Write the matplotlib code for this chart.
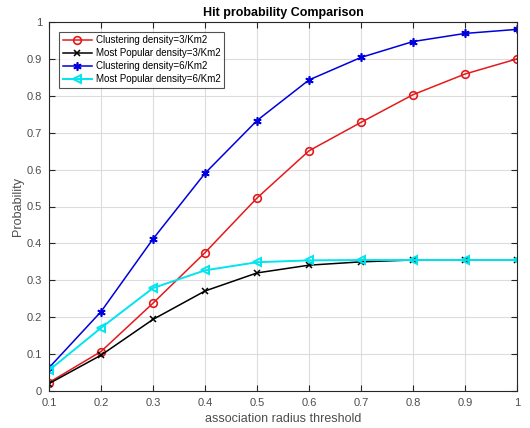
import matplotlib
matplotlib.use("Agg")
import matplotlib.pyplot as plt

x = [0.1, 0.2, 0.3, 0.4, 0.5, 0.6, 0.7, 0.8, 0.9, 1.0]
clust3 = [0.023, 0.107, 0.238, 0.375, 0.523, 0.651, 0.728, 0.803, 0.859, 0.900]
pop3 = [0.020, 0.097, 0.194, 0.271, 0.320, 0.341, 0.350, 0.355, 0.355, 0.355]
clust6 = [0.063, 0.215, 0.412, 0.590, 0.733, 0.843, 0.904, 0.947, 0.969, 0.980]
pop6 = [0.056, 0.171, 0.279, 0.327, 0.349, 0.354, 0.355, 0.355, 0.355, 0.355]
labels = ["Clustering density=3/Km2", "Most Popular density=3/Km2",
          "Clustering density=6/Km2", "Most Popular density=6/Km2"]
xticks = [0.1, 0.2, 0.3, 0.4, 0.5, 0.6, 0.7, 0.8, 0.9, 1.0]
xticklabels = ["0.1", "0.2", "0.3", "0.4", "0.5", "0.6", "0.7", "0.8", "0.9", "1"]
yticks = [0, 0.1, 0.2, 0.3, 0.4, 0.5, 0.6, 0.7, 0.8, 0.9, 1.0]
yticklabels = ["0", "0.1", "0.2", "0.3", "0.4", "0.5", "0.6", "0.7", "0.8", "0.9", "1"]

plt.rcParams['font.family'] = ['Liberation Sans', 'DejaVu Sans']

fig = plt.figure(figsize=(5.30, 4.28), dpi=100)
ax = fig.add_axes([49/530, 1 - 391/428, (517-49)/530, (391-22)/428])

ax.plot(x, clust3, color='#e41a1c', marker='o', markersize=5.5, markerfacecolor='none',
        markeredgewidth=1.2, linewidth=1.1, label=labels[0])
ax.plot(x, pop3, color='black', marker='x', markersize=5, markeredgewidth=1.1,
        linewidth=1.1, label=labels[1])
ax.plot(x, clust6, color='#0000dd', marker=(6, 2, 0), markersize=6, markeredgewidth=1.2,
        linewidth=1.1, label=labels[2])
ax.plot(x, pop6, color='#00e5ee', marker='<', markersize=5.5, markerfacecolor='none',
        markeredgewidth=1.4, linewidth=1.4, label=labels[3])

ax.set_xlim(0.1, 1.0)
ax.set_ylim(0, 1.0)
ax.set_xticks(xticks)
ax.set_xticklabels(xticklabels)
ax.set_yticks(yticks)
ax.set_yticklabels(yticklabels)
ax.grid(True, color='#dcdcdc', linewidth=0.8)
ax.set_axisbelow(True)
ax.tick_params(direction='in', length=4, width=0.8, colors='#262626', labelcolor='#4d4d4d',
               labelsize=8, top=True, right=True, pad=5)
for s in ax.spines.values():
    s.set_color('#262626')
    s.set_linewidth(0.8)

ax.set_xlabel('association radius threshold', fontsize=9, color='#4d4d4d', labelpad=4)
ax.set_ylabel('Probability', fontsize=9, color='#4d4d4d', labelpad=2)
ax.set_title('Hit probability Comparison', fontsize=9, fontweight='bold', pad=4)

leg = ax.legend(loc='upper left', bbox_to_anchor=(0.022, 0.973), fontsize=7,
                frameon=True, fancybox=False, edgecolor='#262626', handlelength=3.0,
                borderpad=0.35, labelspacing=0.3, handletextpad=0.4, borderaxespad=0)
leg.get_frame().set_linewidth(0.8)

fig.savefig('out.png', dpi=100)
